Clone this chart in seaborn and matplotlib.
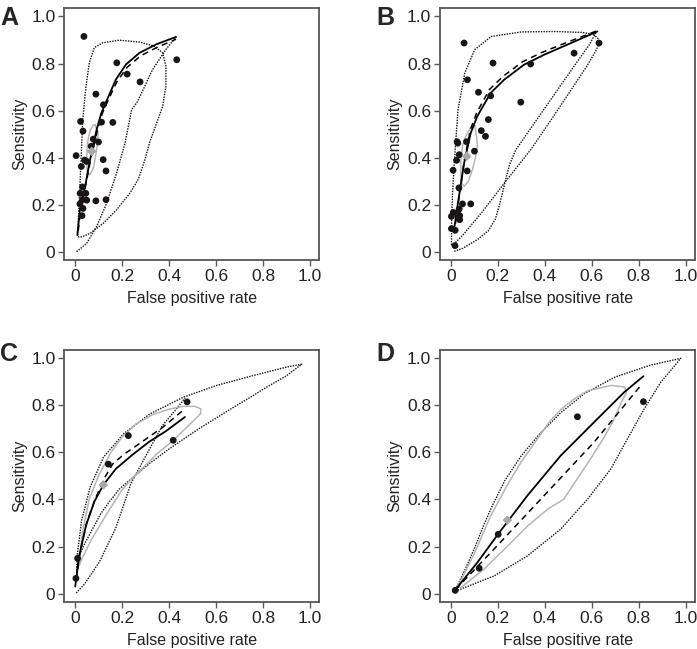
import seaborn as sns
import matplotlib.pyplot as plt
import pandas as pd

sns.set_style('ticks')
plt.rcParams['font.family'] = ['Liberation Sans', 'DejaVu Sans']

# ---- panel A ----
A_fpr = [0.038, 0.178, 0.222, 0.277, 0.433, 0.089, 0.121, 0.024, 0.113, 0.161,
         0.034, 0.078, 0.100, 0.069, 0.005, 0.041, 0.050, 0.120, 0.027, 0.132,
         0.032, 0.022, 0.046, 0.032, 0.050, 0.089, 0.132, 0.021, 0.034, 0.030]
A_sens = [0.915, 0.803, 0.755, 0.722, 0.816, 0.670, 0.625, 0.554, 0.551, 0.550,
          0.513, 0.479, 0.467, 0.449, 0.409, 0.390, 0.384, 0.392, 0.363, 0.344,
          0.276, 0.249, 0.249, 0.222, 0.220, 0.217, 0.222, 0.204, 0.185, 0.154]
A_summary = [0.071, 0.427]
A_solid_x = [0.010, 0.021, 0.043, 0.064, 0.092, 0.113, 0.139, 0.174, 0.217, 0.274, 0.345, 0.430]
A_solid_y = [0.072, 0.179, 0.278, 0.391, 0.519, 0.592, 0.652, 0.732, 0.796, 0.845, 0.881, 0.913]
A_dash_x = [0.014, 0.025, 0.046, 0.067, 0.095, 0.117, 0.143, 0.178, 0.222, 0.280, 0.350, 0.430]
A_dash_y = [0.090, 0.190, 0.285, 0.395, 0.515, 0.590, 0.648, 0.722, 0.784, 0.833, 0.869, 0.903]
A_conf_x = [0.085, 0.099, 0.096, 0.092, 0.085, 0.078, 0.064, 0.054, 0.050, 0.050, 0.052, 0.058, 0.067, 0.076, 0.085]
A_conf_y = [0.540, 0.505, 0.470, 0.434, 0.390, 0.356, 0.328, 0.335, 0.356, 0.400, 0.448, 0.490, 0.519, 0.538, 0.540]
A_pred1_x = [0.012, 0.015, 0.021, 0.027, 0.033, 0.047, 0.061, 0.082, 0.118, 0.189, 0.274, 0.338, 0.373,
             0.387, 0.387, 0.373, 0.345, 0.319, 0.297, 0.270, 0.234, 0.177, 0.121, 0.064, 0.030, 0.015, 0.012]
A_pred1_y = [0.070, 0.150, 0.278, 0.420, 0.562, 0.704, 0.803, 0.867, 0.888, 0.899, 0.891, 0.874, 0.845,
             0.789, 0.704, 0.618, 0.540, 0.469, 0.390, 0.310, 0.250, 0.179, 0.122, 0.079, 0.064, 0.064, 0.070]
A_pred2_x = [0.007, 0.050, 0.092, 0.135, 0.177, 0.213, 0.241, 0.267, 0.300, 0.330, 0.387, 0.430]
A_pred2_y = [0.001, 0.037, 0.108, 0.207, 0.335, 0.462, 0.604, 0.640, 0.710, 0.774, 0.860, 0.912]

# ---- panel B ----
B_fpr = [0.057, 0.180, 0.340, 0.525, 0.631, 0.071, 0.118, 0.170, 0.298, 0.160,
         0.130, 0.148, 0.027, 0.030, 0.067, 0.101, 0.036, 0.025, 0.010, 0.070,
         0.035, 0.050, 0.085, 0.036, 0.011, 0.028, 0.003, 0.038, 0.038, 0.003,
         0.019, 0.018]
B_sens = [0.887, 0.802, 0.798, 0.844, 0.887, 0.731, 0.678, 0.663, 0.636, 0.562,
          0.515, 0.491, 0.468, 0.462, 0.468, 0.428, 0.413, 0.389, 0.347, 0.344,
          0.272, 0.204, 0.204, 0.182, 0.168, 0.165, 0.151, 0.154, 0.137, 0.099,
          0.092, 0.027]
B_summary = [0.068, 0.406]
B_solid_x = [0.014, 0.035, 0.057, 0.085, 0.113, 0.170, 0.227, 0.312, 0.397, 0.496, 0.624]
B_solid_y = [0.095, 0.236, 0.378, 0.505, 0.576, 0.675, 0.731, 0.795, 0.837, 0.880, 0.936]
B_dash_x = [0.020, 0.038, 0.058, 0.084, 0.110, 0.165, 0.222, 0.305, 0.390, 0.490, 0.620]
B_dash_y = [0.120, 0.250, 0.390, 0.520, 0.590, 0.690, 0.745, 0.807, 0.848, 0.888, 0.938]
B_conf_x = [0.102, 0.110, 0.113, 0.105, 0.092, 0.075, 0.057, 0.047, 0.043, 0.043, 0.050, 0.064, 0.085, 0.095, 0.102]
B_conf_y = [0.536, 0.490, 0.448, 0.400, 0.349, 0.300, 0.279, 0.290, 0.321, 0.392, 0.450, 0.491, 0.530, 0.540, 0.536]
B_pred1_x = [0.003, 0.004, 0.008, 0.014, 0.031, 0.060, 0.102, 0.173, 0.301, 0.443, 0.556, 0.606, 0.628,
             0.630, 0.615, 0.580, 0.520, 0.430, 0.340, 0.231, 0.130, 0.050, 0.015, 0.003]
B_pred1_y = [0.030, 0.150, 0.250, 0.364, 0.604, 0.760, 0.859, 0.915, 0.934, 0.936, 0.932, 0.925, 0.905,
             0.880, 0.850, 0.790, 0.700, 0.565, 0.434, 0.296, 0.165, 0.070, 0.035, 0.030]
B_pred2_x = [0.015, 0.050, 0.113, 0.160, 0.190, 0.210, 0.231, 0.250, 0.277, 0.330, 0.400, 0.470, 0.540, 0.590, 0.620]
B_pred2_y = [0.003, 0.015, 0.052, 0.090, 0.140, 0.210, 0.296, 0.370, 0.434, 0.510, 0.610, 0.710, 0.810, 0.880, 0.935]

# ---- panel C ----
C_fpr = [0.477, 0.227, 0.418, 0.142, 0.011, 0.004]
C_sens = [0.814, 0.671, 0.651, 0.550, 0.150, 0.065]
C_summary = [0.121, 0.462]
C_solid_x = [0.001, 0.018, 0.047, 0.082, 0.121, 0.174, 0.245, 0.316, 0.387, 0.468]
C_solid_y = [0.030, 0.160, 0.290, 0.390, 0.462, 0.530, 0.590, 0.645, 0.690, 0.750]
C_dash_x = [0.005, 0.020, 0.050, 0.085, 0.125, 0.160, 0.210, 0.260, 0.310, 0.373, 0.420, 0.468]
C_dash_y = [0.060, 0.170, 0.300, 0.400, 0.490, 0.550, 0.593, 0.627, 0.662, 0.706, 0.745, 0.785]
C_conf_x = [0.018, 0.030, 0.060, 0.100, 0.150, 0.200, 0.260, 0.330, 0.400, 0.460, 0.510, 0.535, 0.535,
            0.500, 0.475, 0.418, 0.348, 0.291, 0.248, 0.200, 0.130, 0.070, 0.030, 0.018]
C_conf_y = [0.120, 0.250, 0.400, 0.500, 0.595, 0.665, 0.720, 0.760, 0.783, 0.795, 0.795, 0.785, 0.765,
            0.730, 0.706, 0.650, 0.593, 0.536, 0.494, 0.440, 0.330, 0.230, 0.150, 0.120]
C_pred1_x = [0.007, 0.010, 0.028, 0.064, 0.121, 0.206, 0.319, 0.461, 0.603, 0.759, 0.901, 0.965,
             0.900, 0.816, 0.740, 0.674, 0.600, 0.532, 0.460, 0.390, 0.320, 0.248, 0.190, 0.149,
             0.110, 0.078, 0.045, 0.021, 0.010, 0.007, 0.007]
C_pred1_y = [0.054, 0.167, 0.309, 0.451, 0.579, 0.678, 0.763, 0.834, 0.884, 0.926, 0.962, 0.974,
             0.925, 0.877, 0.830, 0.791, 0.745, 0.703, 0.655, 0.607, 0.555, 0.495, 0.445, 0.394,
             0.340, 0.281, 0.220, 0.167, 0.120, 0.082, 0.054]
C_pred2_x = [0.005, 0.040, 0.104, 0.174, 0.238, 0.302, 0.373, 0.420, 0.468]
C_pred2_y = [0.003, 0.040, 0.135, 0.280, 0.467, 0.586, 0.715, 0.770, 0.830]

# ---- panel D ----
D_fpr = [0.019, 0.121, 0.202, 0.539, 0.820]
D_sens = [0.014, 0.108, 0.252, 0.751, 0.815]
D_summary = [0.241, 0.312]
D_solid_x = [0.021, 0.113, 0.201, 0.326, 0.468, 0.610, 0.738, 0.820]
D_solid_y = [0.018, 0.132, 0.252, 0.416, 0.586, 0.728, 0.855, 0.923]
D_dash_x = [0.021, 0.184, 0.397, 0.610, 0.809]
D_dash_y = [0.018, 0.189, 0.416, 0.643, 0.884]
D_conf_x = [0.030, 0.100, 0.170, 0.240, 0.300, 0.357, 0.420, 0.471, 0.530, 0.584, 0.684, 0.740, 0.748,
            0.725, 0.690, 0.650, 0.600, 0.540, 0.480, 0.414, 0.330, 0.255, 0.142, 0.043, 0.030]
D_conf_y = [0.030, 0.170, 0.330, 0.460, 0.560, 0.640, 0.730, 0.784, 0.830, 0.862, 0.884, 0.877, 0.855,
            0.810, 0.730, 0.660, 0.580, 0.490, 0.400, 0.360, 0.290, 0.215, 0.104, 0.026, 0.030]
D_pred1_x = [0.021, 0.060, 0.100, 0.140, 0.180, 0.230, 0.300, 0.380, 0.470, 0.570, 0.700, 0.850, 0.979,
             0.894, 0.823, 0.752, 0.681, 0.582, 0.468, 0.326, 0.184, 0.021]
D_pred1_y = [0.018, 0.100, 0.190, 0.290, 0.380, 0.480, 0.585, 0.680, 0.770, 0.850, 0.920, 0.970, 0.999,
             0.898, 0.784, 0.657, 0.529, 0.401, 0.274, 0.160, 0.075, 0.011]

ticks = [0, 0.2, 0.4, 0.6, 0.8, 1.0]
tick_labels = ['0', '0.2', '0.4', '0.6', '0.8', '1.0']

panels = {
    'A': dict(fx=A_fpr, fy=A_sens, s=A_summary, solid=(A_solid_x, A_solid_y), dash=(A_dash_x, A_dash_y),
              conf=(A_conf_x, A_conf_y), pred=[(A_pred1_x, A_pred1_y), (A_pred2_x, A_pred2_y)]),
    'B': dict(fx=B_fpr, fy=B_sens, s=B_summary, solid=(B_solid_x, B_solid_y), dash=(B_dash_x, B_dash_y),
              conf=(B_conf_x, B_conf_y), pred=[(B_pred1_x, B_pred1_y), (B_pred2_x, B_pred2_y)]),
    'C': dict(fx=C_fpr, fy=C_sens, s=C_summary, solid=(C_solid_x, C_solid_y), dash=(C_dash_x, C_dash_y),
              conf=(C_conf_x, C_conf_y), pred=[(C_pred1_x, C_pred1_y), (C_pred2_x, C_pred2_y)]),
    'D': dict(fx=D_fpr, fy=D_sens, s=D_summary, solid=(D_solid_x, D_solid_y), dash=(D_dash_x, D_dash_y),
              conf=(D_conf_x, D_conf_y), pred=[(D_pred1_x, D_pred1_y)]),
}

# axes rectangles in figure fractions
boxes = {'A': [0.0924, 0.5994, 0.3658, 0.3884], 'B': [0.6315, 0.5994, 0.3658, 0.3884],
         'C': [0.0924, 0.0729, 0.3658, 0.3884], 'D': [0.6315, 0.0729, 0.3658, 0.3884]}
letter_pos = {'A': (0.0, 0.991), 'B': (0.540, 0.991), 'C': (0.0, 0.473), 'D': (0.540, 0.473)}

fig = plt.figure(figsize=(6.97, 6.49), dpi=100)

def line(ax, xs, ys, **kw):
    d = pd.DataFrame({'x': xs, 'y': ys})
    sns.lineplot(data=d, x='x', y='y', sort=False, estimator=None, ax=ax, **kw)

for key, p in panels.items():
    ax = fig.add_axes(boxes[key])
    for px, py in p['pred']:
        line(ax, px, py, color='#111111', linewidth=1.0, linestyle=(0, (1, 0.9)))
    line(ax, *p['conf'], color='#b5b5b5', linewidth=1.1)
    line(ax, *p['dash'], color='black', linewidth=1.1, linestyle=(0, (4, 3)))
    line(ax, *p['solid'], color='black', linewidth=1.3)
    sns.scatterplot(x=p['fx'], y=p['fy'], ax=ax, color='#1a1414', s=24, edgecolor='none', zorder=5)
    sns.scatterplot(x=[p['s'][0]], y=[p['s'][1]], ax=ax, color='#a8a8a8', marker='D', s=24,
                    edgecolor='none', zorder=6)
    ax.set_xlim(-0.045, 1.04)
    ax.set_ylim(-0.034, 1.036)
    ax.set_xticks(ticks)
    ax.set_xticklabels(tick_labels)
    ax.set_yticks(ticks)
    ax.set_yticklabels(tick_labels)
    ax.set_xlabel('False positive rate', fontsize=11.5, color='#222222', labelpad=5)
    ax.set_ylabel('Sensitivity', fontsize=11.5, color='#222222', labelpad=3)
    ax.tick_params(labelsize=12.5, length=4, width=1.0, color='#5a5a5a', labelcolor='#222222', pad=2.5)
    for sp in ax.spines.values():
        sp.set_visible(True)
        sp.set_color('#5a5555')
        sp.set_linewidth(1.3)
    fig.text(*letter_pos[key], key, fontsize=18, fontweight='bold', va='top', ha='left',
             family=['Liberation Sans Narrow', 'Liberation Sans'])

fig.savefig('out.png', dpi=100)
